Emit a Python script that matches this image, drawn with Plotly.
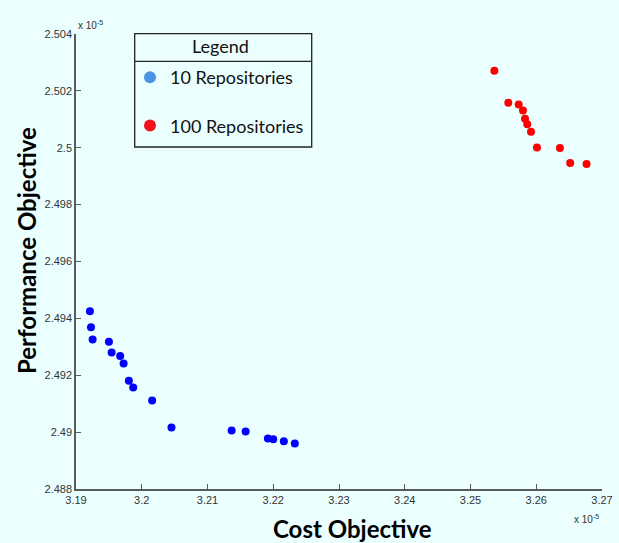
import plotly.graph_objects as go

# Cost objective (x 1e-5) and performance objective (x 1e-5)
cost_10 = [3.19212, 3.19228, 3.19253, 3.19501, 3.19542, 3.19672, 3.19724, 3.19804, 3.19870,
           3.20158, 3.20452, 3.21367, 3.21580, 3.21918, 3.22000, 3.22161, 3.22328]
perf_10 = [2.49425, 2.49369, 2.49326, 2.49318, 2.49280, 2.49268, 2.49241, 2.49181, 2.49157,
           2.49111, 2.49016, 2.49006, 2.49002, 2.48978, 2.48975, 2.48968, 2.48960]

cost_100 = [3.25363, 3.25575, 3.25733, 3.25798, 3.25829, 3.25863, 3.25920, 3.26011, 3.26360,
            3.26516, 3.26765]
perf_100 = [2.50271, 2.50158, 2.50152, 2.50131, 2.50102, 2.50083, 2.50056, 2.50001, 2.49999,
            2.49946, 2.49943]

x_ticks = [3.19, 3.20, 3.21, 3.22, 3.23, 3.24, 3.25, 3.26, 3.27]
x_tick_labels = ["3.19", "3.2", "3.21", "3.22", "3.23", "3.24", "3.25", "3.26", "3.27"]
y_ticks = [2.488, 2.490, 2.492, 2.494, 2.496, 2.498, 2.500, 2.502, 2.504]
y_tick_labels = ["2.488", "2.49", "2.492", "2.494", "2.496", "2.498", "2.5", "2.502", "2.504"]

series_names = ["10 Repositories", "100 Repositories"]
legend_colors = ["#4a94e6", "#f5101e"]

BG = "#ebffff"
AXIS = "#5a5a5a"
TITLE_FONT = "Lato, Open Sans"

fig = go.Figure()

fig.add_trace(go.Scatter(x=cost_10, y=perf_10, mode="markers", showlegend=False,
                         marker=dict(color="#0000ff", size=8, line=dict(width=0))))
fig.add_trace(go.Scatter(x=cost_100, y=perf_100, mode="markers", showlegend=False,
                         marker=dict(color="#ff0000", size=8, line=dict(width=0))))
# legend entries
for i, (name, col) in enumerate(zip(series_names, legend_colors)):
    fig.add_trace(go.Scatter(x=[None], y=[None], mode="markers", name=name,
                             legendgroup=f"g{i}",
                             marker=dict(color=col, size=7, line=dict(width=0))))

# pixel helpers (plot area spans x 76..602, y 34..489)
def px_x(p):
    return (p - 76) / 526.0

def px_y(p):
    return (489 - p) / 455.0

fig.update_layout(
    width=619, height=543, autosize=False,
    paper_bgcolor=BG, plot_bgcolor=BG,
    margin=dict(l=76, r=17, t=34, b=54, autoexpand=False),
    font=dict(family="Liberation Sans, Arial", color="#333333", size=11),
    xaxis=dict(range=[3.19, 3.27], tickvals=x_ticks, ticktext=x_tick_labels,
               automargin=False,
               showgrid=False, zeroline=False, showline=True, linecolor=AXIS, linewidth=1.5,
               ticks="inside", ticklen=5, tickcolor=AXIS, tickwidth=1.2,
               tickfont=dict(size=11, color="#333333")),
    yaxis=dict(range=[2.488, 2.504], tickvals=y_ticks, ticktext=y_tick_labels,
               automargin=False,
               showgrid=False, zeroline=False, showline=True, linecolor=AXIS, linewidth=1.5,
               ticks="inside", ticklen=5, tickcolor=AXIS, tickwidth=1.2,
               tickfont=dict(size=11, color="#333333")),
    legend=dict(x=px_x(130), y=px_y(59), xanchor="left", yanchor="top",
                bgcolor="rgba(0,0,0,0)", borderwidth=0,
                font=dict(family=TITLE_FONT, size=18, color="#111111"),
                tracegroupgap=22, itemsizing="constant"),
)

# legend frame and separator
fig.add_shape(type="rect", xref="paper", yref="paper",
              x0=px_x(134.7), x1=px_x(311.7), y0=px_y(147), y1=px_y(33.7),
              line=dict(color="#222222", width=1.3), fillcolor="rgba(0,0,0,0)")
fig.add_shape(type="line", xref="paper", yref="paper",
              x0=px_x(134.7), x1=px_x(311.7), y0=px_y(61.3), y1=px_y(61.3),
              line=dict(color="#222222", width=1.3))
fig.add_annotation(text="Legend", xref="paper", yref="paper",
                   x=px_x(220), y=px_y(46), xanchor="center", yanchor="middle",
                   showarrow=False,
                   font=dict(family=TITLE_FONT, size=18, color="#111111"))

# axis titles
fig.add_annotation(text="<b>Cost Objective</b>", xref="paper", yref="paper",
                   x=px_x(352), y=px_y(528), xanchor="center", yanchor="middle",
                   showarrow=False,
                   font=dict(family=TITLE_FONT, size=24, color="#000000"))
fig.add_annotation(text="<b>Performance Objective</b>", xref="paper", yref="paper",
                   x=px_x(26), y=px_y(251), xanchor="center", yanchor="middle",
                   showarrow=False, textangle=-90,
                   font=dict(family=TITLE_FONT, size=24, color="#000000"))
# exponent labels
fig.add_annotation(text="x 10<sup>-5</sup>", xref="paper", yref="paper",
                   x=px_x(76), y=px_y(25), xanchor="left", yanchor="middle",
                   showarrow=False,
                   font=dict(size=10, color="#333333"))
fig.add_annotation(text="x 10<sup>-5</sup>", xref="paper", yref="paper",
                   x=px_x(601), y=px_y(519), xanchor="right", yanchor="middle",
                   showarrow=False,
                   font=dict(size=10, color="#333333"))

fig.write_html("out.html", config={"displayModeBar": False},
               post_script="document.body.style.margin='0';document.body.style.background='#ebffff';")
